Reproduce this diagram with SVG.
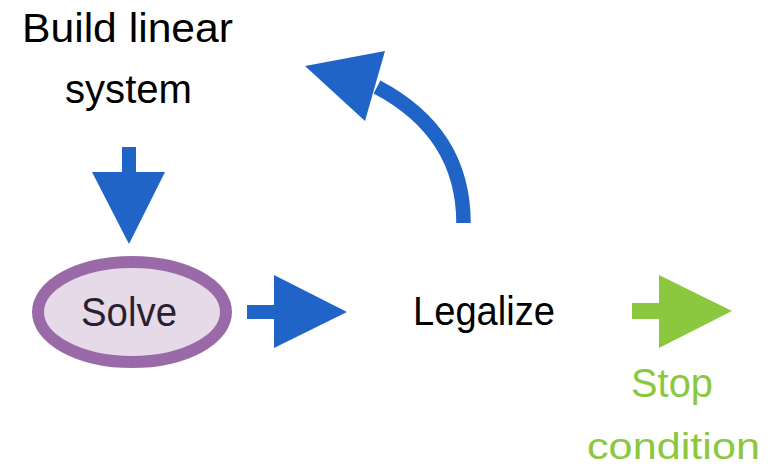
<svg xmlns="http://www.w3.org/2000/svg" width="774" height="468" viewBox="0 0 774 468">
  <style>
    .lbl { font-family: "Liberation Sans", Arial, sans-serif; font-size: 40px; }
    .dark { fill: #000000; }
    .green { fill: #8CC83F; }
    .blue { fill: #2064C8; }
  </style>
  <rect width="774" height="468" fill="#ffffff"/>

  <!-- Step: build linear system -->
  <g id="build">
    <text class="lbl dark" x="22" y="42" textLength="211" lengthAdjust="spacingAndGlyphs">Build linear</text>
    <text class="lbl dark" x="65" y="103" textLength="127" lengthAdjust="spacingAndGlyphs">system</text>
  </g>

  <!-- Step: solve -->
  <g id="solve">
    <ellipse cx="132" cy="312" rx="94" ry="50" fill="#E6DAE9" stroke="#9A6AA8" stroke-width="12"/>
    <text class="lbl" x="81" y="326" fill="#2A1F30" textLength="96" lengthAdjust="spacingAndGlyphs">Solve</text>
  </g>

  <!-- Step: legalize -->
  <g id="legalize">
    <text class="lbl dark" x="413" y="325" textLength="142" lengthAdjust="spacingAndGlyphs">Legalize</text>
  </g>

  <!-- Exit: stop condition -->
  <g id="stop">
    <text class="lbl green" x="631" y="397" textLength="82" lengthAdjust="spacingAndGlyphs">Stop</text>
    <text class="lbl green" x="587" y="459" font-size="37" textLength="173" lengthAdjust="spacingAndGlyphs" style="font-size:37px">condition</text>
  </g>

  <!-- Connectors -->
  <g id="connectors">
    <!-- build -> solve -->
    <polygon class="blue" points="122,147 136,147 136,172 165,172 129,244 92,172 122,172"/>
    <!-- solve -> legalize -->
    <polygon class="blue" points="247,305 274,305 274,275 347,312 274,348 274,319 247,319"/>
    <!-- legalize -> build (loop back) -->
    <path d="M463.5,223 C463.5,160 432,116 377,87" fill="none" stroke="#2064C8" stroke-width="14.5"/>
    <polygon class="blue" points="305,66 385,51 365,121"/>
    <!-- legalize -> stop condition -->
    <polygon class="green" points="632,303 659,303 659,275 732,311 659,348 659,319 632,319"/>
  </g>
</svg>
